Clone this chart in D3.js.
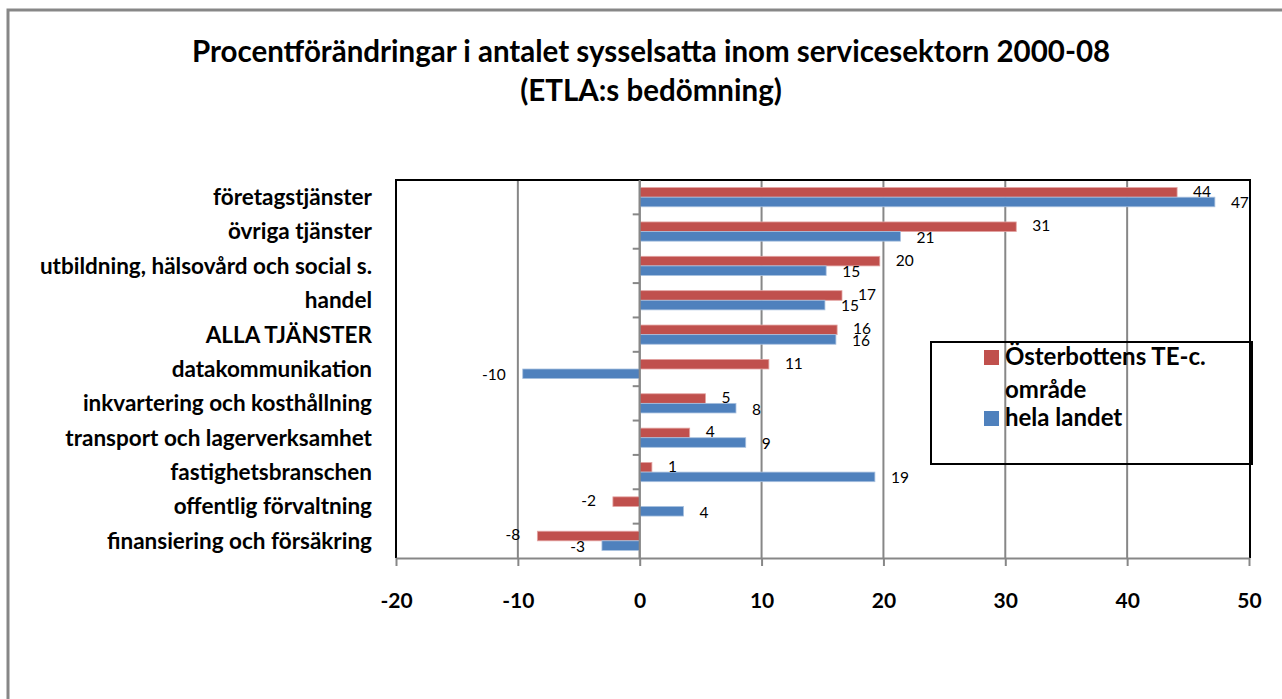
<!DOCTYPE html>
<html>
<head>
<meta charset="utf-8">
<script src="https://cdn.jsdelivr.net/npm/d3@7"></script>
<style>
  body { margin: 0; background: #fff; }
  svg { display: block; font-family: Lato, "Open Sans", sans-serif; }
  .cat { font-weight: bold; font-size: 22.5px; }
  .x.axis text { font-weight: bold; font-size: 21px; fill: #000; }
  .lbl { font-size: 15.5px; }
</style>
</head>
<body>
<svg width="1282" height="699"></svg>
<script>
// categories, top to bottom
var categories = [
    "företagstjänster",
    "övriga tjänster",
    "utbildning, hälsovård och social s.",
    "handel",
    "ALLA TJÄNSTER",
    "datakommunikation",
    "inkvartering och kosthållning",
    "transport och lagerverksamhet",
    "fastighetsbranschen",
    "offentlig förvaltning",
    "finansiering och försäkring"
];
var seriesNames = ["Österbottens TE-c. område", "hela landet"];
// Österbottens TE-c. område
var regionValues = [44.1, 30.9, 19.7, 16.6, 16.2, 10.6, 5.4, 4.1, 1.0, -2.2, -8.4];
// hela landet
var countryValues = [47.2, 21.4, 15.3, 15.2, 16.1, -9.6, 7.9, 8.7, 19.3, 3.6, -3.1];
var xTicks = [-20, -10, 0, 10, 20, 30, 40, 50];

var colors = ["#C0504D", "#4F81BD"];

var svg = d3.select('svg');

// outer chart frame
svg.append('rect')
    .attr('x', 8).attr('y', 10)
    .attr('width', 1300).attr('height', 720)
    .attr('fill', 'none')
    .attr('stroke', '#878787')
    .attr('stroke-width', 3);

// title
var title = svg.append('text')
    .attr('text-anchor', 'middle')
    .attr('font-weight', 'bold')
    .attr('font-size', 29.5);
title.append('tspan').attr('x', 651).attr('y', 62)
    .text("Procentförändringar i antalet sysselsatta inom servicesektorn 2000-08");
title.append('tspan').attr('x', 651).attr('y', 101)
    .text("(ETLA:s bedömning)");

var plot = {l: 396, r: 1249, t: 180, b: 558};

var xScale = d3.scaleLinear()
    .domain([-20, 50])
    .range([plot.l, plot.r]);

var yScale = d3.scaleBand()
    .domain(categories)
    .range([plot.t, plot.b]);

var ySeries = d3.scaleBand()
    .domain([0, 1])
    .range([0, yScale.bandwidth()])
    .paddingOuter(0.79);

// gridlines
svg.append('g').selectAll('line')
    .data(xTicks.filter(function(d) { return d !== -20 && d !== 50; }))
    .enter().append('line')
    .attr('x1', d => xScale(d)).attr('x2', d => xScale(d))
    .attr('y1', plot.t).attr('y2', plot.b)
    .attr('stroke', '#878787')
    .attr('stroke-width', 2);

// category ticks on the zero line
svg.append('g').selectAll('line')
    .data(categories.slice(1))
    .enter().append('line')
    .attr('x1', xScale(0) - 7).attr('x2', xScale(0))
    .attr('y1', d => yScale(d)).attr('y2', d => yScale(d))
    .attr('stroke', '#878787')
    .attr('stroke-width', 2);

// plot area border (left, top, right)
svg.append('path')
    .attr('d', 'M' + plot.l + ',' + plot.b + 'V' + plot.t + 'H' + (plot.r + 1) + 'V' + plot.b)
    .attr('fill', 'none')
    .attr('stroke', '#000')
    .attr('stroke-width', 2);

// bottom axis
var xAxisG = svg.append('g')
    .attr('class', 'x axis')
    .attr('transform', 'translate(0,' + plot.b + ')')
    .call(d3.axisBottom(xScale)
        .tickValues(xTicks)
        .tickFormat(d => String(d))
        .tickSize(8).tickPadding(27).tickSizeOuter(0));
xAxisG.select('.domain').attr('stroke', '#878787').attr('stroke-width', 2);
xAxisG.selectAll('.tick line').attr('stroke', '#878787').attr('stroke-width', 2);
xAxisG.selectAll('text').attr('font-family', 'Lato, sans-serif');

// bars
var rows = categories.map(function(c, i) {
    return {cat: c, values: [regionValues[i], countryValues[i]]};
});

var rowG = svg.append('g').selectAll('.row')
    .data(rows)
    .enter().append('g')
    .attr('class', 'row')
    .attr('transform', d => 'translate(0,' + yScale(d.cat) + ')');

var bars = rowG.selectAll('.bar')
    .data(d => d.values.map(function(v, s) { return {v: v, s: s}; }))
    .enter();

bars.append('rect')
    .attr('class', 'bar')
    .attr('x', d => xScale(Math.min(0, d.v)))
    .attr('y', d => ySeries(d.s))
    .attr('width', d => Math.abs(xScale(d.v) - xScale(0)))
    .attr('height', ySeries.bandwidth())
    .attr('fill', d => colors[d.s])
    .attr('stroke', d => d.s === 0 ? '#e3a4a2' : '#a9c1df')
    .attr('stroke-width', 0.8);

// data labels
bars.append('text')
    .attr('class', 'lbl')
    .attr('x', d => d.v >= 0 ? xScale(d.v) + 16 : xScale(d.v) - 17)
    .attr('y', d => ySeries(d.s) + ySeries.bandwidth() / 2 + (d.s === 0 ? -1 : 1))
    .attr('dy', '0.35em')
    .attr('text-anchor', d => d.v >= 0 ? 'start' : 'end')
    .text(d => Math.round(d.v));

// zero line on top of bars
svg.append('line')
    .attr('x1', xScale(0)).attr('x2', xScale(0))
    .attr('y1', plot.t).attr('y2', plot.b)
    .attr('stroke', '#878787')
    .attr('stroke-width', 2);

// category labels
svg.append('g').selectAll('text')
    .data(categories)
    .enter().append('text')
    .attr('class', 'cat')
    .attr('x', 372)
    .attr('y', d => yScale(d) + yScale.bandwidth() / 2)
    .attr('dy', '0.35em')
    .attr('text-anchor', 'end')
    .text(d => d);

// legend
var legend = svg.append('g').attr('transform', 'translate(931,342)');
legend.append('rect')
    .attr('width', 321).attr('height', 122)
    .attr('fill', 'none')
    .attr('stroke', '#000')
    .attr('stroke-width', 2);

var legendLines = [["Österbottens TE-c.", "område"], ["hela landet"]];
var legendRows = [8, 69];
legendLines.forEach(function(lines, s) {
    legend.append('rect')
        .attr('x', 53).attr('y', legendRows[s])
        .attr('width', 15).attr('height', 15)
        .attr('fill', colors[s]);
    var t = legend.append('text')
        .attr('font-weight', 'bold')
        .attr('font-size', 24);
    lines.forEach(function(line, k) {
        t.append('tspan')
            .attr('x', 74)
            .attr('y', legendRows[s] + 15 + k * 33)
            .text(line);
    });
});
</script>
</body>
</html>
